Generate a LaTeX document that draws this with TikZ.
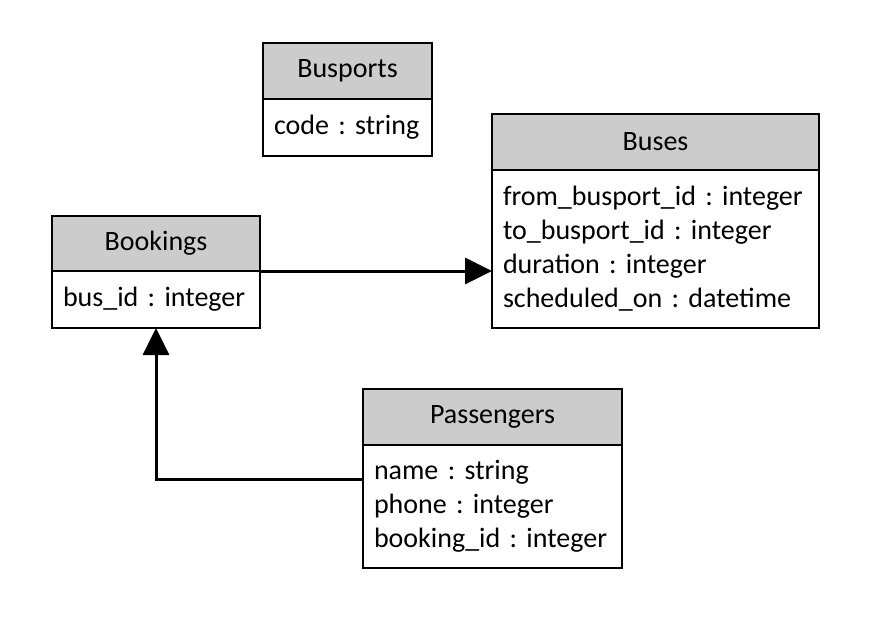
\documentclass[tikz,border=0pt]{standalone}
\usepackage{fontspec}
\setmainfont{Carlito}
\usetikzlibrary{arrows.meta}
\definecolor{headgray}{HTML}{CCCCCC}
\newcommand{\classfont}{\fontsize{28}{34}\selectfont\frenchspacing\spaceskip=0.2em plus 0.05em minus 0.05em\relax}

\begin{document}
\begin{tikzpicture}[x=1pt,y=-1pt]
	\tikzstyle{every node}=[draw, line width=1.5pt, outer sep=0pt, inner sep=0pt, anchor=north west, font=\classfont]
	\tikzstyle{head}=[fill=headgray, minimum height=56pt]
	\tikzstyle{attrs}=[fill=white, align=left, inner xsep=11pt]
	\tikzstyle{link}=[line width=3pt, -{Triangle[length=27pt,width=26pt]}]
	\useasboundingbox (0,0) rectangle (880,631);
	% classes
	\draw (263,43) node (busports) [head, minimum width=169pt] {Busports};
	\draw (busports.south west) node (busportsattr) [attrs, text width=147pt, minimum height=57pt] {code : string};
	\draw (492,114) node (buses) [head, minimum width=327pt] {Buses};
	\draw (buses.south west) node (busesattr) [attrs, text width=305pt, minimum height=158pt] {from\_busport\_id : integer\\to\_busport\_id : integer\\duration : integer\\scheduled\_on : datetime};
	\draw (52,216) node (bookings) [head, minimum width=208pt, minimum height=55pt] {Bookings};
	\draw (bookings.south west) node (bookingsattr) [attrs, text width=186pt, minimum height=57pt] {bus\_id : integer};
	\draw (363,389) node (passengers) [head, minimum width=259pt] {Passengers};
	\draw (passengers.south west) node (passengersattr) [attrs, text width=237pt, minimum height=123pt] {name : string\\phone : integer\\booking\_id : integer};
	% links
	\coordinate (pfrom) at (363,479);
	\draw[link] (bookings.south east) -- (bookings.south east -| busesattr.west);
	\draw[link] (pfrom) -| (bookingsattr.south);
\end{tikzpicture}
\end{document}
